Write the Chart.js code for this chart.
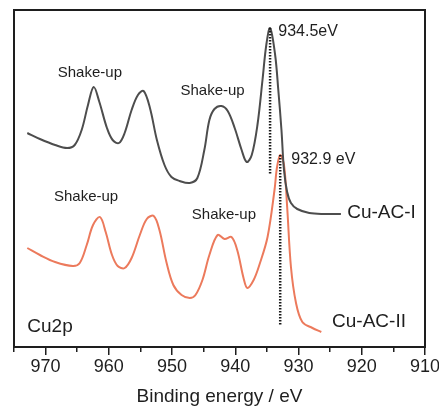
<!DOCTYPE html>
<html>
<head>
<meta charset="utf-8">
<script src="https://cdn.jsdelivr.net/npm/chart.js@4.4.0/dist/chart.umd.min.js"></script>
<style>
html,body{margin:0;padding:0;background:#fff;}
canvas{display:block;}
</style>
</head>
<body>
<canvas id="c" width="439" height="408"></canvas>
<script>
// ---- data (binding energy in eV, intensity in arbitrary units) ----
const energyI = [972.9,970.9,968.5,966.6,965.4,964.3,963.3,962.4,961.5,960.3,959.4,958.4,957.5,956.4,955.4,954.5,953.5,952.4,951.2,950.1,948.8,947.2,946.0,944.9,944.1,943.3,942.2,941.2,940.1,939.0,938.2,937.4,936.5,935.7,935.1,934.5,933.7,933.2,932.7,932.3,931.8,931.2,930.2,928.3,925.9,923.3];
const intensityI = [214,208,202,199,202,217,242,260,245,219,207,204,214,237,252,256,239,207,182,170,166,164,169,197,227,238,241,236,219,197,185,192,222,267,302,319,292,257,217,177,155,144,138,134,133,133];

const energyII = [972.9,970.9,968.5,965.7,964.6,963.5,962.5,961.4,960.5,959.5,958.6,957.5,956.4,955.1,954.0,952.9,952.0,950.9,949.8,948.5,947.2,946.3,945.2,944.1,942.8,941.7,940.6,939.7,938.7,938.1,937.1,936.2,934.9,933.8,933.4,932.9,932.3,931.8,931.2,930.4,929.4,927.8,926.4];
const intensityII = [99,92,85,81,84,102,122,130,115,92,81,79,89,112,128,131,117,85,62,52,49,52,67,92,112,108,110,97,69,59,67,82,110,157,180,192,182,140,80,44,25,19,15];

const peakEnergies = [934.5, 932.9];
const dropTop = [319, 192];
const dropBottom = [172, 22];

const xTickValues = [970, 960, 950, 940, 930, 920, 910];
const xTickLabels = ['970', '960', '950', '940', '930', '920', '910'];
const xMinorValues = [975, 965, 955, 945, 935, 925, 915];

const seriesNames = ['Cu-AC-I', 'Cu-AC-II'];
const axisTitle = 'Binding energy / eV';

// annotations: [text, energy, intensity, align]
const notes = [
  ['Shake-up', 963.0, 274, 'center'],
  ['Shake-up', 943.6, 256, 'center'],
  ['934.5eV', 933.2, 315, 'left'],
  ['932.9 eV', 931.15, 187, 'left'],
  ['Cu-AC-I', 922.3, 134, 'left'],
  ['Shake-up', 963.6, 150, 'center'],
  ['Shake-up', 941.8, 132, 'center'],
  ['Cu-AC-II', 924.7, 25, 'left'],
  ['Cu2p', 972.9, 20, 'left']
];
const noteSizes = [15, 15, 16, 16, 19, 15, 15, 19, 19];

// ---- chart ----
const FONT = "'Liberation Sans', Arial, sans-serif";
const INK = '#1e1e1e';
const pts = (xs, ys) => xs.map((x, i) => ({x: x, y: ys[i]}));

const notesPlugin = {
  id: 'notes',
  afterDatasetsDraw(chart) {
    const ctx = chart.ctx, xs = chart.scales.x, ys = chart.scales.y;
    ctx.save();
    ctx.fillStyle = INK;
    ctx.textBaseline = 'middle';
    notes.forEach((n, i) => {
      ctx.font = noteSizes[i] + 'px ' + FONT;
      ctx.textAlign = n[3];
      ctx.fillText(n[0], xs.getPixelForValue(n[1]), ys.getPixelForValue(n[2]));
    });
    ctx.restore();
  }
};

const range = {min: 910, max: 975, reverse: true, type: 'linear'};

new Chart(document.getElementById('c'), {
  type: 'line',
  data: {
    datasets: [
      {label: 'drop1', data: [{x: peakEnergies[0], y: dropTop[0]}, {x: peakEnergies[0], y: dropBottom[0]}],
       borderColor: '#1a1a1a', borderWidth: 2.5, borderDash: [1.6, 1.4], pointRadius: 0, tension: 0},
      {label: 'drop2', data: [{x: peakEnergies[1], y: dropTop[1]}, {x: peakEnergies[1], y: dropBottom[1]}],
       borderColor: '#1a1a1a', borderWidth: 2.5, borderDash: [1.6, 1.4], pointRadius: 0, tension: 0},
      {label: seriesNames[0], data: pts(energyI, intensityI), borderColor: '#4d4d4d', borderWidth: 2,
       pointRadius: 0, tension: 0.35},
      {label: seriesNames[1], data: pts(energyII, intensityII), borderColor: '#ec7a5c', borderWidth: 2,
       pointRadius: 0, tension: 0.35}
    ]
  },
  options: {
    responsive: false,
    animation: false,
    devicePixelRatio: 1,
    layout: {padding: 0},
    plugins: {legend: {display: false}, tooltip: {enabled: false}},
    scales: {
      xMinor: Object.assign({}, range, {
        position: 'bottom', weight: 0,
        afterBuildTicks: s => { s.ticks = xMinorValues.map(v => ({value: v})); },
        ticks: {display: false},
        grid: {display: true, drawOnChartArea: false, drawTicks: true, tickLength: 5, color: INK, lineWidth: 1.5},
        border: {display: true, color: INK, width: 2},
        afterFit: s => { s.height = 0; s.paddingLeft = 0; s.paddingRight = 0; }
      }),
      x: Object.assign({}, range, {
        position: 'bottom', weight: 1,
        afterBuildTicks: s => { s.ticks = xTickValues.map(v => ({value: v})); },
        ticks: {
          display: true, color: INK, padding: 1, maxRotation: 0, autoSkip: false,
          font: {family: FONT, size: 18},
          callback: (v) => { const i = xTickValues.indexOf(v); return i >= 0 ? xTickLabels[i] : ''; }
        },
        grid: {display: true, drawOnChartArea: false, drawTicks: true, tickLength: 8, color: INK, lineWidth: 1.5},
        border: {display: true, color: INK, width: 2},
        title: {display: true, text: axisTitle, color: INK, font: {family: FONT, size: 19}, padding: {top: 0, bottom: 0}},
        afterFit: s => { s.height = 61; s.paddingLeft = 0; s.paddingRight = 0; }
      }),
      xTop: Object.assign({}, range, {
        position: 'top',
        ticks: {display: false},
        grid: {display: false, drawTicks: false},
        border: {display: true, color: INK, width: 2},
        afterFit: s => { s.height = 10; s.paddingLeft = 0; s.paddingRight = 0; }
      }),
      y: {
        type: 'linear', position: 'left', min: 0, max: 337,
        ticks: {display: false},
        grid: {display: false, drawTicks: false},
        border: {display: true, color: INK, width: 2},
        afterFit: s => { s.width = 14; s.paddingTop = 0; s.paddingBottom = 0; }
      },
      yRight: {
        type: 'linear', position: 'right', min: 0, max: 337,
        ticks: {display: false},
        grid: {display: false, drawTicks: false},
        border: {display: true, color: INK, width: 2},
        afterFit: s => { s.width = 14; s.paddingTop = 0; s.paddingBottom = 0; }
      }
    }
  },
  plugins: [notesPlugin]
});
</script>
</body>
</html>
